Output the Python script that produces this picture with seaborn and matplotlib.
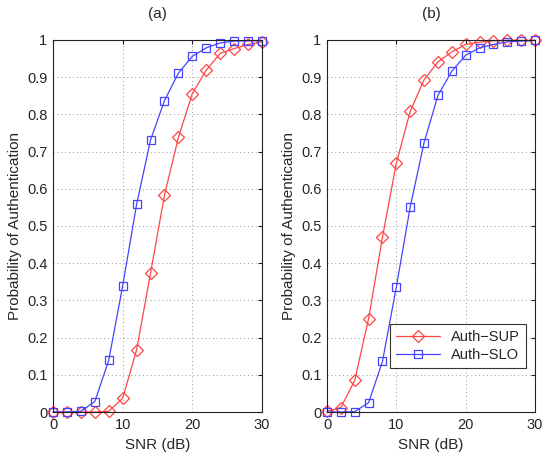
import matplotlib
matplotlib.use("Agg")
import matplotlib.pyplot as plt
import seaborn as sns
import pandas as pd
import numpy as np

snr = [0, 2, 4, 6, 8, 10, 12, 14, 16, 18, 20, 22, 24, 26, 28, 30]

a_sup = [0.0, 0.0, 0.0, 0.0, 0.002, 0.037, 0.167, 0.373, 0.583, 0.738, 0.856, 0.919,
         0.964, 0.977, 0.988, 0.995]
a_slo = [0.0, 0.0, 0.002, 0.028, 0.139, 0.339, 0.558, 0.731, 0.837, 0.911, 0.956, 0.979,
         0.992, 0.997, 0.998, 0.998]
b_sup = [0.002, 0.012, 0.085, 0.251, 0.470, 0.669, 0.808, 0.893, 0.941, 0.968, 0.988,
         0.994, 0.998, 0.999, 0.999, 0.999]
b_slo = [0.0, 0.0, 0.001, 0.025, 0.136, 0.336, 0.551, 0.724, 0.851, 0.916, 0.959, 0.979,
         0.988, 0.995, 0.997, 0.999]

series_names = ["Auth\u2212SUP", "Auth\u2212SLO"]
panel_titles = ["(a)", "(b)"]
x_ticks = [0, 10, 20, 30]
y_ticks = [0, 0.1, 0.2, 0.3, 0.4, 0.5, 0.6, 0.7, 0.8, 0.9, 1]
y_tick_labels = ["0", "0.1", "0.2", "0.3", "0.4", "0.5", "0.6", "0.7", "0.8", "0.9", "1"]

sns.set_style("white")
plt.rcParams['font.family'] = ['Liberation Sans', 'DejaVu Sans']

fig = plt.figure(figsize=(5.44, 4.54), dpi=100)
axes = [fig.add_axes([53/544, 1-412/454, 209/544, 372/454]),
        fig.add_axes([327/544, 1-412/454, 208/544, 372/454])]

palette = {series_names[0]: "#ff4444", series_names[1]: "#4444ff"}
markers = {series_names[0]: "D", series_names[1]: "s"}

panels = [(a_sup, a_slo), (b_sup, b_slo)]
for i, (ax, (sup, slo)) in enumerate(zip(axes, panels)):
    df = pd.DataFrame({
        "SNR": snr + snr,
        "P": sup + slo,
        "Scheme": [series_names[0]] * len(snr) + [series_names[1]] * len(snr),
    })
    sns.lineplot(data=df, x="SNR", y="P", hue="Scheme", style="Scheme",
                 palette=palette, markers=markers, dashes=False, ax=ax,
                 linewidth=0.9, markersize=6, markerfacecolor="none",
                 markeredgewidth=0.9, legend=(i == 1), clip_on=False)
    for line in ax.get_lines():
        c = line.get_color()
        line.set_markeredgecolor(c)
        line.set_markerfacecolor("none")
    ax.set_xlim(0, 30)
    ax.set_ylim(0, 1)
    ax.set_xticks(x_ticks)
    ax.set_yticks(y_ticks)
    ax.set_yticklabels(y_tick_labels)
    ax.grid(True, linestyle=(0, (1, 3)), color="#999999", linewidth=0.7)
    for sp in ax.spines.values():
        sp.set_visible(True)
        sp.set_color("#222222")
        sp.set_linewidth(0.8)
    ax.tick_params(direction="in", length=3, labelsize=10.5, top=True, right=True,
                   color="#222222", pad=4)
    ax.set_xlabel("SNR (dB)", fontsize=11, labelpad=5)
    ax.set_ylabel("Probability of Authentication", fontsize=11, labelpad=4)
    ax.set_title(panel_titles[i], fontsize=11, pad=16)
    if i == 1:
        leg = ax.legend(loc="lower right", bbox_to_anchor=(0.957, 0.118),
                        borderaxespad=0, fontsize=10.5, frameon=True, fancybox=False,
                        handlelength=3.0, borderpad=0.4, labelspacing=0.3)
        leg.get_frame().set_edgecolor("black")
        leg.get_frame().set_linewidth(0.8)
        for h in leg.get_lines():
            h.set_markerfacecolor("none")

fig.savefig("out.png", dpi=100)
